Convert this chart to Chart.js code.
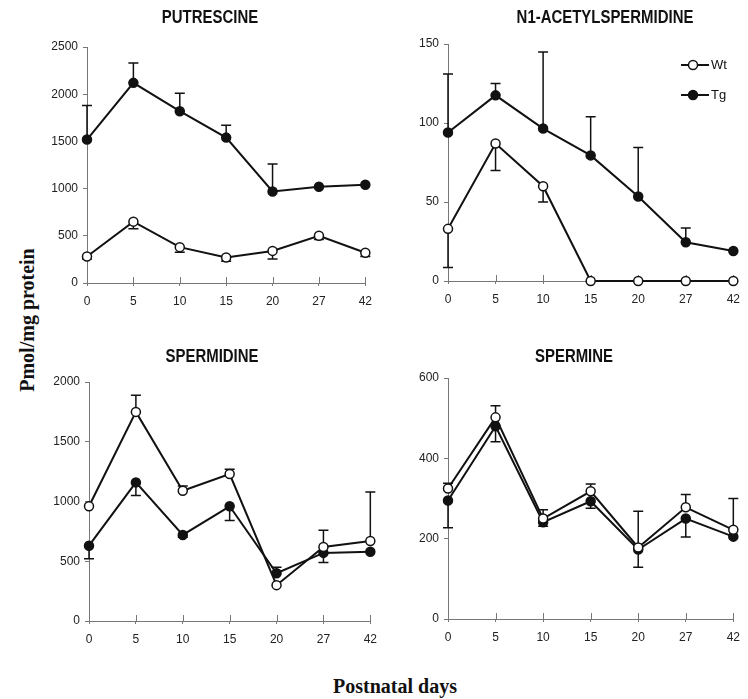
<!DOCTYPE html>
<html>
<head>
<meta charset="utf-8">
<script src="https://cdn.jsdelivr.net/npm/chart.js@4.4.0/dist/chart.umd.min.js"></script>
<style>
body { margin: 0; background: #fff; }
#page { position: relative; width: 748px; height: 699px; overflow: hidden; background: #fff; }
#page canvas { position: absolute; }
.ytitle {
	position: absolute; left: 27px; top: 320px;
	transform: translate(-50%, -50%) rotate(-90deg);
	font: bold 20px 'Liberation Serif', serif; white-space: nowrap; color: #111;
}
.xtitle {
	position: absolute; left: 395px; top: 686px;
	transform: translate(-50%, -50%);
	font: bold 20px 'Liberation Serif', serif; white-space: nowrap; color: #111;
}
</style>
</head>
<body>
<div id="page">
	<div class="ytitle">Pmol/mg protein</div>
	<div class="xtitle">Postnatal days</div>
</div>
<script>
const days = ['0', '5', '10', '15', '20', '27', '42'];

// error bar arrays hold the value where the bar ends (null = no bar)
const putWt = [280, 650, 380, 270, 340, 500, 320];
const putWtErr = [255, 575, 325, 230, 255, 460, 280];
const putTg = [1520, 2120, 1820, 1540, 970, 1020, 1040];
const putTgErr = [1880, 2330, 2010, 1670, 1260, null, null];

const acWt = [33, 87, 60, 0, 0, 0, 0];
const acWtErr = [8.5, 70, 50, null, null, null, null];
const acTg = [94, 117.5, 96.5, 79.5, 53.5, 24.5, 19];
const acTgErr = [131, 125, 145, 104, 84.5, 33.5, null];

const spdWt = [960, 1750, 1090, 1230, 300, 620, 670];
const spdWtErr = [null, 1890, 1130, 1270, null, 760, 1080];
const spdTg = [630, 1160, 720, 960, 400, 570, 580];
const spdTgErr = [520, 1050, 700, 840, 450, 490, null];

const smWt = [325, 502, 250, 318, 178, 278, 222];
const smWtErr = [338, 531, 272, 336, 268, 310, 300];
const smTg = [295, 480, 241, 293, 173, 250, 205];
const smTgErr = [227, 441, 231, 276, 129, 204, null];

const axisColor = '#777';
const ink = '#111';
const tickFont = { family: "'Liberation Sans', Arial, sans-serif", size: 12 };

const wtStyle = {
	borderColor: ink,
	borderWidth: 2,
	pointRadius: 4.5,
	pointBorderWidth: 1.5,
	pointBackgroundColor: '#fff',
	pointBorderColor: ink,
	tension: 0,
	clip: false,
};
const tgStyle = { ...wtStyle, pointBackgroundColor: ink };

const panelPlugin = {
	id: 'panel',
	beforeDatasetsDraw(chart) {
		const ctx = chart.ctx;
		const xs = chart.scales.x, ys = chart.scales.y;
		ctx.save();
		// inward tick marks on x axis
		ctx.strokeStyle = axisColor;
		ctx.lineWidth = 1;
		days.forEach((d, i) => {
			const x = Math.round(xs.getPixelForValue(i)) + 0.5;
			ctx.beginPath();
			ctx.moveTo(x, ys.bottom);
			ctx.lineTo(x, ys.bottom - 6);
			ctx.stroke();
		});
		// error bars
		ctx.strokeStyle = ink;
		ctx.lineWidth = 1.5;
		chart.data.datasets.forEach((ds) => {
			(ds.errorTo || []).forEach((end, i) => {
				if (end === null) return;
				const x = xs.getPixelForValue(i);
				const y0 = ys.getPixelForValue(ds.data[i]);
				const y1 = ys.getPixelForValue(end);
				ctx.beginPath();
				ctx.moveTo(x, y0);
				ctx.lineTo(x, y1);
				ctx.moveTo(x - 5, y1);
				ctx.lineTo(x + 5, y1);
				ctx.stroke();
			});
		});
		ctx.restore();
	},
	afterDraw(chart, args, opts) {
		const ctx = chart.ctx;
		ctx.save();
		ctx.fillStyle = ink;
		ctx.font = "bold 18px 'Liberation Sans', Arial, sans-serif";
		ctx.textAlign = 'center';
		ctx.textBaseline = 'middle';
		ctx.translate(opts.titleX, opts.titleY);
		ctx.scale(0.83, 1);
		ctx.fillText(opts.title, 0, 0);
		ctx.restore();

		if (!opts.legend) return;
		const [lx, ly, gap] = opts.legend;
		ctx.save();
		ctx.font = "13px 'Liberation Sans', Arial, sans-serif";
		ctx.textBaseline = 'middle';
		chart.data.datasets.forEach((ds, k) => {
			const y = ly + k * gap;
			ctx.strokeStyle = ink;
			ctx.lineWidth = 2;
			ctx.beginPath();
			ctx.moveTo(lx, y);
			ctx.lineTo(lx + 28, y);
			ctx.stroke();
			ctx.beginPath();
			ctx.arc(lx + 12, y, 4.5, 0, Math.PI * 2);
			ctx.fillStyle = ds.pointBackgroundColor;
			ctx.fill();
			ctx.lineWidth = 1.5;
			ctx.stroke();
			ctx.fillStyle = ink;
			ctx.fillText(ds.label, lx + 30, y);
		});
		ctx.restore();
	},
};

// box = canvas [left, top, width, height]; area = plot [left, right, top, bottom] in page px
const panels = [
	{ title: 'PUTRESCINE', max: 2500, step: 500, wt: putWt, wtErr: putWtErr, tg: putTg, tgErr: putTgErr,
		box: [0, 0, 380, 330], area: [87, 368, 47, 283], titleAt: [210, 18] },
	{ title: 'N1-ACETYLSPERMIDINE', max: 150, step: 50, wt: acWt, wtErr: acWtErr, tg: acTg, tgErr: acTgErr,
		box: [370, 0, 378, 330], area: [448, 742, 44, 281], titleAt: [605, 18], legend: [681, 65, 30] },
	{ title: 'SPERMIDINE', max: 2000, step: 500, wt: spdWt, wtErr: spdWtErr, tg: spdTg, tgErr: spdTgErr,
		box: [0, 330, 385, 340], area: [89, 377, 382, 621], titleAt: [212, 357] },
	{ title: 'SPERMINE', max: 600, step: 200, wt: smWt, wtErr: smWtErr, tg: smTg, tgErr: smTgErr,
		box: [370, 330, 378, 340], area: [448, 739, 378, 619], titleAt: [574, 357] },
];

const page = document.getElementById('page');

function makePanel(p) {
	const [cl, ct, cw, ch] = p.box;
	const [al, ar, at, ab] = p.area;
	const cv = document.createElement('canvas');
	cv.width = cw;
	cv.height = ch;
	cv.style.left = cl + 'px';
	cv.style.top = ct + 'px';
	page.appendChild(cv);

	new Chart(cv, {
		type: 'line',
		data: {
			labels: days,
			datasets: [
				{ ...wtStyle, label: 'Wt', data: p.wt, errorTo: p.wtErr },
				{ ...tgStyle, label: 'Tg', data: p.tg, errorTo: p.tgErr },
			],
		},
		options: {
			responsive: false,
			animation: false,
			devicePixelRatio: 1,
			layout: { padding: { top: at - ct, right: cl + cw - ar, bottom: 0, left: 0 } },
			scales: {
				x: {
					type: 'category',
					offset: false,
					grid: { drawOnChartArea: false, tickLength: 3, color: axisColor },
					border: { color: axisColor, width: 1 },
					ticks: { font: tickFont, color: '#222', padding: 8, maxRotation: 0, autoSkip: false },
					afterFit(s) { s.height = ct + ch - ab; },
				},
				y: {
					min: 0,
					max: p.max,
					grid: { drawOnChartArea: false, tickLength: 4, color: axisColor },
					border: { color: axisColor, width: 1 },
					ticks: { stepSize: p.step, font: tickFont, color: '#222', padding: 5, callback: (v) => String(v) },
					afterFit(s) { s.width = al - cl; },
				},
			},
			plugins: {
				legend: { display: false },
				tooltip: { enabled: false },
				panel: {
					title: p.title,
					titleX: p.titleAt[0] - cl,
					titleY: p.titleAt[1] - ct,
					legend: p.legend ? [p.legend[0] - cl, p.legend[1] - ct, p.legend[2]] : null,
				},
			},
		},
		plugins: [panelPlugin],
	});
}

panels.forEach(makePanel);
</script>
</body>
</html>
